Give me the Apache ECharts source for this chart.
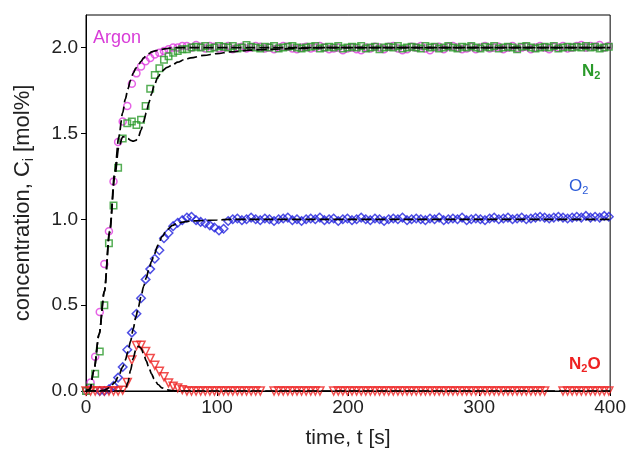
<!DOCTYPE html>
<html><head><meta charset="utf-8">
<script src="https://cdn.jsdelivr.net/npm/echarts@6/dist/echarts.min.js"></script>
<style>html,body{margin:0;padding:0;background:#fff}#c{width:629px;height:455px}</style>
</head><body><div id="c"></div>
<script>
// measured sample times [s]
const time = [
 0, 3.5, 7, 10.5, 14, 17.5, 21, 24.5, 28, 31.5,
 35, 38.5, 42, 45.5, 49, 52.5, 56, 59.5, 63, 66.5,
 70, 73.5, 77, 80.5, 84, 87.5, 91, 94.5, 98, 101.5,
 105, 108.5, 112, 115.5, 119, 122.5, 126, 129.5, 133, 136.5,
 140, 143.5, 147, 150.5, 154, 157.5, 161, 164.5, 168, 171.5,
 175, 178.5, 182, 185.5, 189, 192.5, 196, 199.5, 203, 206.5,
 210, 213.5, 217, 220.5, 224, 227.5, 231, 234.5, 238, 241.5,
 245, 248.5, 252, 255.5, 259, 262.5, 266, 269.5, 273, 276.5,
 280, 283.5, 287, 290.5, 294, 297.5, 301, 304.5, 308, 311.5,
 315, 318.5, 322, 325.5, 329, 332.5, 336, 339.5, 343, 346.5,
 350, 353.5, 357, 360.5, 364, 367.5, 371, 374.5, 378, 381.5,
 385, 388.5, 392, 395.5, 399
];
const argon = [
 0, 0.05, 0.2, 0.46, 0.74, 0.93, 1.22, 1.45, 1.57, 1.66,
 1.79, 1.85, 1.89, 1.92, 1.94, 1.96, 1.97, 1.98, 1.99, 2.0,
 2.0, 2.01, 2.01, 2.0, 2.015, 2.005, 1.995, 2.01, 2.005, 1.995,
 2.0, 2.01, 1.99, 2.0, 2.005, 1.995, 2.0, 2.01, 2.005, 1.995,
 2.0, 1.99, 2.0, 2.01, 2.005, 1.995, 1.99, 2.0, 2.005, 1.995,
 2.0, 2.01, 2.0, 1.99, 1.995, 2.0, 1.985, 1.995, 2.0, 1.99,
 1.985, 2.0, 1.995, 2.005, 2.0, 1.99, 2.005, 2.01, 1.995, 1.985,
 1.99, 2.005, 2.0, 2.01, 1.995, 1.985, 2.0, 2.005, 1.99, 2.005,
 2.01, 2.0, 1.99, 1.995, 2.005, 1.99, 2.0, 2.01, 1.995, 2.0,
 2.005, 1.99, 2.0, 2.01, 1.995, 2.0, 2.005, 1.99, 2.0, 2.01,
 2.0, 1.99, 2.005, 2.0, 2.01, 1.995, 2.0, 2.01, 2.015, 2.0,
 2.01, 2.005, 2.015, 2.0, 2.01
];
const nitrogen = [
 0, 0.02, 0.1, 0.23, 0.5, 0.86, 1.08, 1.3, 1.47, 1.56,
 1.57, 1.55, 1.58, 1.66, 1.76, 1.84, 1.88, 1.93, 1.95, 1.97,
 1.98, 1.99, 1.99, 2.0, 2.005, 2.0, 2.01, 1.995, 2.0, 2.01,
 2.005, 2.0, 2.01, 1.995, 2.0, 2.015, 2.005, 2.0, 1.995, 2.005,
 2.0, 2.01, 1.995, 2.0, 2.005, 2.01, 2.0, 1.995, 2.0, 2.005,
 2.01, 1.995, 2.0, 2.005, 2.0, 2.01, 1.995, 2.0, 2.005, 2.0,
 2.01, 1.995, 2.0, 2.005, 1.99, 2.0, 2.005, 2.0, 2.01, 1.995,
 2.0, 2.005, 2.0, 1.995, 2.01, 2.0, 2.005, 1.995, 2.0, 2.01,
 2.0, 1.995, 2.005, 2.0, 2.01, 2.0, 1.995, 2.005, 2.0, 2.01,
 1.995, 2.0, 2.005, 2.0, 1.99, 2.005, 2.01, 2.0, 1.995, 2.0,
 2.005, 2.0, 2.01, 1.995, 2.0, 2.005, 2.0, 2.005, 2.0, 2.01,
 2.0, 2.005, 1.995, 2.0, 2.005
];
const oxygen = [
 null, null, null, 0.0, 0.0, 0.01, 0.03, 0.078, 0.14, 0.24,
 0.34, 0.45, 0.54, 0.65, 0.71, 0.77, 0.82, 0.89, 0.92, 0.96,
 0.98, 0.995, 1.01, 1.015, 0.995, 0.985, 0.977, 0.965, 0.952, 0.935,
 0.945, 0.99, 1.0, 1.005, 0.995, 1.0, 1.01, 1.0, 0.995, 1.005,
 1.0, 0.99, 1.0, 1.005, 1.01, 0.995, 1.0, 0.99, 1.0, 1.005,
 1.0, 1.01, 0.995, 1.0, 1.005, 0.99, 1.0, 1.005, 0.995, 1.0,
 1.01, 1.0, 0.995, 1.005, 1.0, 0.99, 1.0, 1.005, 1.0, 1.01,
 0.995, 1.0, 1.005, 1.0, 0.995, 1.005, 1.0, 1.01, 0.995, 1.0,
 1.005, 1.0, 1.01, 0.995, 1.0, 1.005, 1.0, 0.995, 1.005, 1.01,
 1.0, 1.005, 1.01, 1.0, 1.005, 1.01, 1.0, 1.005, 1.01, 1.015,
 1.01, 1.005, 1.01, 1.015, 1.01, 1.005, 1.01, 1.015, 1.01, 1.02,
 1.01, 1.015, 1.01, 1.02, 1.015
];
const nitrousOxide = [
 0, 0, 0, 0, 0, 0, 0, 0, 0.005, 0.05,
 0.18, 0.265, 0.266, 0.23, 0.19, 0.15, 0.115, 0.083, 0.047, 0.028,
 0.018, 0.008, 0, 0, 0, 0, 0, 0, 0, 0,
 0, 0, 0, 0, 0, 0, 0, 0, 0, null,
 null, 0, 0, 0, 0, 0, 0, 0, 0, 0,
 0, 0, null, null, 0, 0, 0, 0, 0, 0,
 0, 0, 0, 0, 0, 0, 0, 0, 0, 0,
 0, 0, 0, 0, 0, 0, 0, 0, 0, 0,
 0, 0, 0, 0, 0, 0, 0, 0, 0, 0,
 0, 0, 0, 0, 0, 0, 0, 0, 0, 0,
 0, null, null, null, 0, 0, 0, 0, 0, 0,
 0, 0, 0, 0, 0
];
// model (dashed) curves
const modelTime = [0, 3, 6, 10, 14, 18, 22, 25, 28, 30, 32, 34, 36, 38, 40, 42, 44, 46, 48, 50, 52, 55, 58, 62, 66, 70, 75, 80, 90, 100, 110, 125, 140, 160, 180, 200, 250, 300, 350, 400];
const argonModel = [0, 0.01, 0.12, 0.33, 0.58, 0.93, 1.28, 1.48, 1.62, 1.7, 1.76, 1.81, 1.85, 1.88, 1.9, 1.92, 1.94, 1.955, 1.965, 1.975, 1.98, 1.985, 1.99, 1.995, 2.0, 2.0, 2.0, 2.0, 2.0, 2.0, 2.0, 2.0, 2.0, 2.0, 2.0, 2.0, 2.0, 2.0, 2.0, 2.0];
const nitrogenModel = [0, 0.01, 0.12, 0.33, 0.58, 0.92, 1.25, 1.42, 1.48, 1.48, 1.47, 1.46, 1.455, 1.46, 1.48, 1.52, 1.57, 1.62, 1.68, 1.73, 1.78, 1.83, 1.865, 1.885, 1.9, 1.915, 1.93, 1.94, 1.955, 1.965, 1.975, 1.985, 1.99, 1.995, 2.0, 2.0, 2.0, 2.0, 2.0, 2.0];
const oxygenModel = [0, 0, 0, 0, 0.005, 0.02, 0.05, 0.09, 0.14, 0.18, 0.23, 0.29, 0.36, 0.43, 0.49, 0.55, 0.61, 0.66, 0.71, 0.755, 0.795, 0.85, 0.9, 0.94, 0.965, 0.978, 0.985, 0.99, 0.993, 0.996, 1.0, 1.0, 1.0, 1.0, 1.0, 1.0, 1.0, 1.0, 1.0, 1.0];
const nitrousOxideModel = [0, 0, 0, 0, 0, 0, 0, 0, 0, 0.01, 0.05, 0.12, 0.19, 0.24, 0.26, 0.25, 0.215, 0.175, 0.135, 0.1, 0.07, 0.038, 0.018, 0.006, 0.002, 0, 0, 0, 0, 0, 0, 0, 0, 0, 0, 0, 0, 0, 0, 0];
const xTicks = [0, 100, 200, 300, 400];
const yTicks = [0, 0.5, 1.0, 1.5, 2.0];

const FONT = "'Liberation Sans', Arial, Helvetica, sans-serif";
const pairs = (xs, ys) => xs.map((x, i) => [x, ys[i] === null ? '-' : ys[i]]);

function scatter(name, ys, symbol, color, size, rotate) {
  return {
    name, type: 'scatter', data: pairs(time, ys), symbol, symbolSize: size,
    symbolRotate: rotate || 0,
    itemStyle: { color: 'rgba(255,255,255,0)', borderColor: color, borderWidth: 1.5 },
    z: 2, silent: true
  };
}
function model(name, ys) {
  return {
    name, type: 'line', data: pairs(modelTime, ys), showSymbol: false,
    smooth: 0.3, smoothMonotone: 'x',
    lineStyle: { color: '#000', width: 1.7, type: [10, 4] }, z: 3, silent: true
  };
}

const chart = echarts.init(document.getElementById('c'), null, { renderer: 'canvas' });
chart.setOption({
  animation: false,
  backgroundColor: '#fff',
  grid: { left: 86, right: 18, top: 15, bottom: 64, show: true, borderColor: '#000', borderWidth: 1, backgroundColor: 'transparent' },
  xAxis: {
    type: 'value', min: 0, max: 400, interval: 100,
    name: 'time, t [s]', nameLocation: 'middle', nameGap: 37,
    nameTextStyle: { fontFamily: FONT, fontSize: 21, color: '#222' },
    axisLine: { show: true, lineStyle: { color: '#000', width: 1 } },
    axisTick: { show: true, inside: false, length: 5, lineStyle: { color: '#000' }, customValues: xTicks },
    axisLabel: { fontFamily: FONT, fontSize: 19, color: '#222', margin: 7, customValues: xTicks },
    splitLine: { show: false }
  },
  yAxis: {
    type: 'value', min: 0, max: 2.19,
    name: '{a|concentration, C}{s|i}{a| [mol%]}', nameLocation: 'middle', nameGap: 50,
    nameTextStyle: { fontFamily: FONT, fontSize: 22, color: '#222',
      rich: { a: { fontFamily: FONT, fontSize: 22, color: '#222' },
              s: { fontFamily: FONT, fontSize: 14, color: '#222', padding: [12, 0, 0, 0] } } },
    axisLine: { show: true, lineStyle: { color: '#000', width: 1 } },
    axisTick: { show: true, inside: false, length: 5, lineStyle: { color: '#000' }, customValues: yTicks },
    axisLabel: { fontFamily: FONT, fontSize: 19, color: '#222', margin: 8, customValues: yTicks,
      formatter: v => v.toFixed(1) },
    splitLine: { show: false }
  },
  series: [
    scatter('Argon', argon, 'circle', '#e03ce0', 7),
    scatter('N2', nitrogen, 'rect', '#2a9a2a', 6.5),
    scatter('O2', oxygen, 'diamond', '#2222dd', 8.5),
    scatter('N2O', nitrousOxide, 'triangle', '#ee2222', 8, 180),
    model('Argon model', argonModel),
    model('N2 model', nitrogenModel),
    model('O2 model', oxygenModel),
    model('N2O model', nitrousOxideModel)
  ],
  graphic: [
    { type: 'text', left: 93, top: 29, style: { text: 'Argon', font: '18px ' + FONT, fill: '#d83cd8' } },
    { type: 'text', left: 582, top: 63, style: { text: '{a|N}{s|2}', rich: {
      a: { font: 'bold 17px ' + FONT, fill: '#2a9a2a' }, s: { font: 'bold 11px ' + FONT, fill: '#2a9a2a', padding: [9, 0, 0, 0] } } } },
    { type: 'text', left: 569, top: 178, style: { text: '{a|O}{s|2}', rich: {
      a: { font: '17px ' + FONT, fill: '#2a5ad8' }, s: { font: '11px ' + FONT, fill: '#2a5ad8', padding: [9, 0, 0, 0] } } } },
    { type: 'text', left: 569, top: 356, style: { text: '{a|N}{s|2}{a|O}', rich: {
      a: { font: 'bold 17px ' + FONT, fill: '#ee2222' }, s: { font: 'bold 11px ' + FONT, fill: '#ee2222', padding: [9, 0, 0, 0] } } } }
  ]
});
</script>
</body></html>
